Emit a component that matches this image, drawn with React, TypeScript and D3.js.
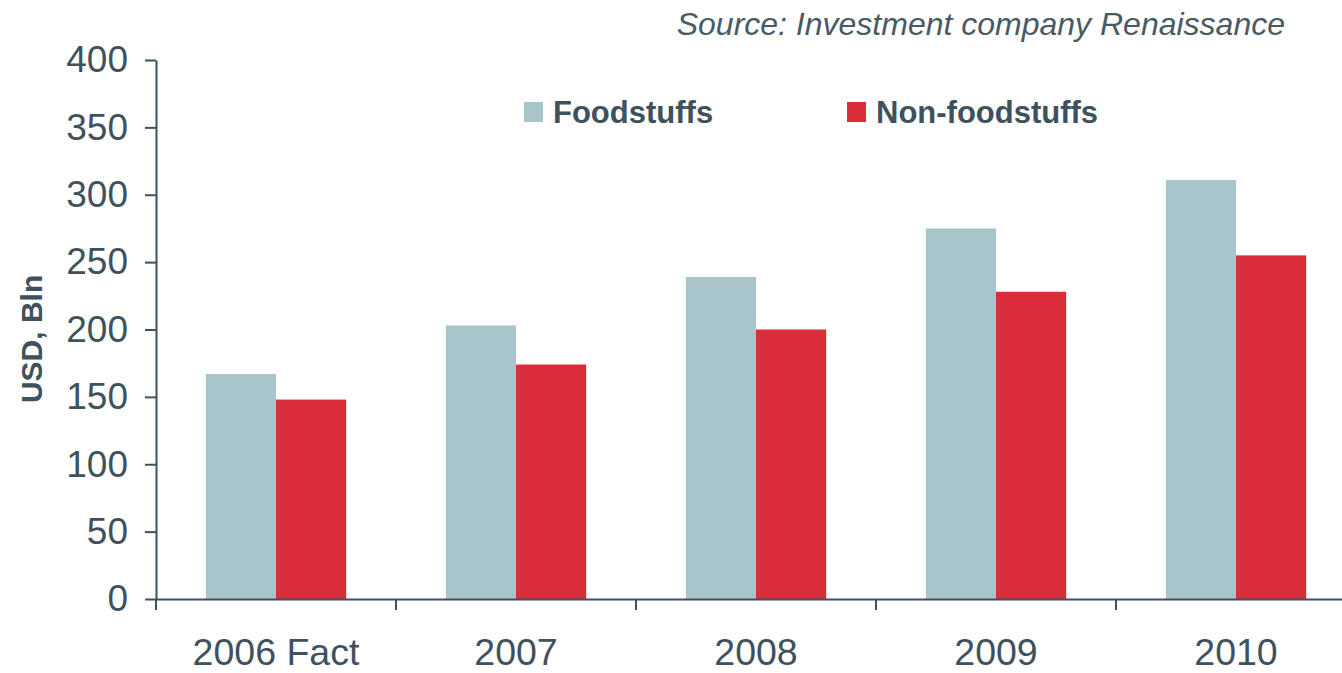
import React, { useEffect, useRef } from 'react'
import * as d3 from 'd3'

const categories = ['2006 Fact', '2007', '2008', '2009', '2010']
const foodstuffs = [167, 203, 239, 275, 311]
const nonFoodstuffs = [148, 174, 200, 228, 255]
const seriesNames = ['Foodstuffs', 'Non-foodstuffs']
const yTicks = [0, 50, 100, 150, 200, 250, 300, 350, 400]

const colors = ['#a8c5cc', '#d92e3a']
const ink = '#3f515c'
const font = '"Liberation Sans", Arial, sans-serif'

export default function App() {
  const ref = useRef<SVGSVGElement | null>(null)

  useEffect(() => {
    const width = 1342
    const height = 673
    const svg = d3.select(ref.current!)
    svg.selectAll('*').remove()

    const left = 156
    const bandW = 240
    const x = d3.scaleBand<string>().domain(categories).range([left, left + bandW * categories.length])
    const y = d3.scaleLinear().domain([0, 400]).range([599, 60])
    const inner = d3.scaleBand<number>().domain([0, 1]).range([0, x.bandwidth()]).paddingOuter(0.71).paddingInner(0)

    const rows = categories.map((c, i) => ({ c, vals: [foodstuffs[i], nonFoodstuffs[i]] }))

    // bars
    const g = svg.append('g')
    rows.forEach(r => {
      r.vals.forEach((v, j) => {
        g.append('rect')
          .attr('x', (x(r.c) ?? 0) + (inner(j) ?? 0))
          .attr('y', y(v))
          .attr('width', inner.bandwidth())
          .attr('height', y(0) - y(v))
          .attr('fill', colors[j])
      })
    })

    // y axis
    const ya = svg.append('g').attr('transform', `translate(${left},0)`)
      .call(d3.axisLeft(y).tickValues(yTicks).tickSize(11).tickPadding(17).tickSizeOuter(0))
    ya.select('.domain').attr('stroke', ink).attr('stroke-width', 2)
    ya.selectAll('.tick line').attr('stroke', ink).attr('stroke-width', 2)
    ya.selectAll('.tick text').attr('fill', ink).attr('font-size', 37).attr('font-family', font)

    // x axis
    const xa = svg.append('g').attr('transform', `translate(0,${y(0)})`)
      .call(d3.axisBottom(x).tickSize(0).tickPadding(39).tickSizeOuter(0))
    xa.select('.domain').attr('stroke', ink).attr('stroke-width', 2)
    xa.selectAll('.tick text').attr('fill', ink).attr('font-size', 37.5).attr('font-family', font)
    // boundary ticks between categories
    const bounds = categories.map(c => x(c) ?? 0)
    xa.selectAll('line.bound').data(bounds).enter().append('line')
      .attr('class', 'bound')
      .attr('x1', d => d).attr('x2', d => d)
      .attr('y1', 0).attr('y2', 11)
      .attr('stroke', ink).attr('stroke-width', 2)

    // y title
    svg.append('text')
      .attr('transform', `translate(42,${y(193)}) rotate(-90)`)
      .attr('text-anchor', 'middle')
      .attr('font-family', font).attr('font-weight', 700).attr('font-size', 30)
      .attr('fill', ink)
      .text('USD, Bln')

    // legend
    const legendX = [524, 847]
    seriesNames.forEach((name, i) => {
      svg.append('rect').attr('x', legendX[i]).attr('y', 102).attr('width', 19).attr('height', 20).attr('fill', colors[i])
      svg.append('text').attr('x', legendX[i] + 29).attr('y', 123)
        .attr('font-family', font).attr('font-weight', 700).attr('font-size', 31)
        .attr('fill', ink).text(name)
    })

    // source
    svg.append('text')
      .attr('x', 1285).attr('y', 35)
      .attr('text-anchor', 'end')
      .attr('font-family', font).attr('font-style', 'italic').attr('font-size', 32)
      .attr('fill', '#4a5a64')
      .text('Source: Investment company Renaissance')

    svg.attr('viewBox', `0 0 ${width} ${height}`)
  }, [])

  return (
    <svg ref={ref} width={1342} height={673}
      style={{ position: 'absolute', left: 0, top: 0, background: '#fff' }} />
  )
}
